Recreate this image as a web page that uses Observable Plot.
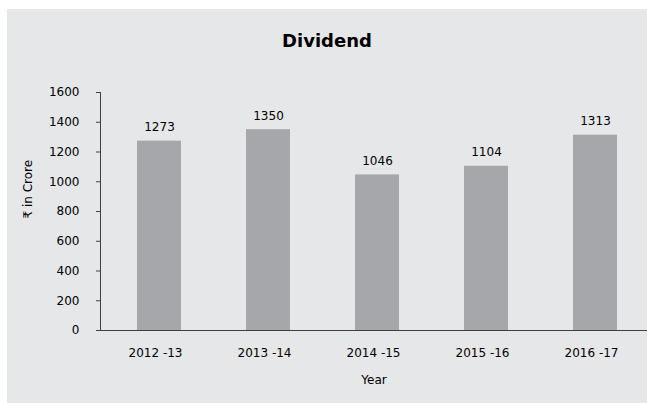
<!DOCTYPE html>
<html>
<head>
<meta charset="utf-8">
<script src="https://cdn.jsdelivr.net/npm/d3@7"></script>
<script src="https://cdn.jsdelivr.net/npm/@observablehq/plot@0.6"></script>
<style>
  html, body { margin: 0; padding: 0; background: #ffffff; }
  #panel { position: absolute; left: 7px; top: 9px; width: 640px; height: 394px; background: #e6e7e9; overflow: hidden; }
  #title { position: absolute; left: 0; top: 21px; width: 640px; text-align: center; font-family: "DejaVu Sans", Verdana, sans-serif; font-weight: bold; font-size: 18px; color: #000; }
  #chart { position: absolute; left: 0; top: 0; }
</style>
</head>
<body>
<div id="panel">
  <div id="title">Dividend</div>
  <div id="chart"></div>
</div>
<script>
const years = ["2012 -13", "2013 -14", "2014 -15", "2015 -16", "2016 -17"];
const dividend = [1273, 1350, 1046, 1104, 1313];
const yTicks = [0, 200, 400, 600, 800, 1000, 1200, 1400, 1600];

const data = years.map((year, i) => ({year, value: dividend[i]}));

const chart = Plot.plot({
  width: 640,
  height: 394,
  marginLeft: 93,
  marginRight: 0,
  marginTop: 83,
  marginBottom: 73,
  style: {background: "transparent", fontFamily: "'DejaVu Sans', Verdana, sans-serif", fontSize: "12px", color: "#000"},
  x: {type: "band", domain: years, range: [96, 643], paddingInner: 0.6, paddingOuter: 0.3},
  y: {domain: [0, 1600]},
  marks: [
    Plot.barY(data, {x: "year", y: "value", fill: "#a6a7aa"}),
    Plot.text(data, {x: "year", y: "value", text: d => String(d.value), dy: -14, fontSize: 12, fill: "#000"}),
    Plot.axisY({ticks: yTicks, tickFormat: d => String(d), tickSize: 4, tickPadding: 17, label: null, fontSize: 12, stroke: "#404040", fill: "#000"}),
    Plot.axisX({tickSize: 0, tickPadding: 18, dx: -4, label: null, fontSize: 12, fill: "#000"}),
    Plot.frame({anchor: "left", stroke: "#404040"}),
    Plot.ruleY([0], {stroke: "#404040"}),
    Plot.text(["Year"], {frameAnchor: "bottom", dy: 53, fontSize: 12, fill: "#000"}),
    Plot.text(["₹ in Crore"], {frameAnchor: "left", dx: -72, dy: 7, rotate: -90, fontSize: 12, fill: "#000"})
  ]
});
document.getElementById("chart").appendChild(chart);
</script>
</body>
</html>
